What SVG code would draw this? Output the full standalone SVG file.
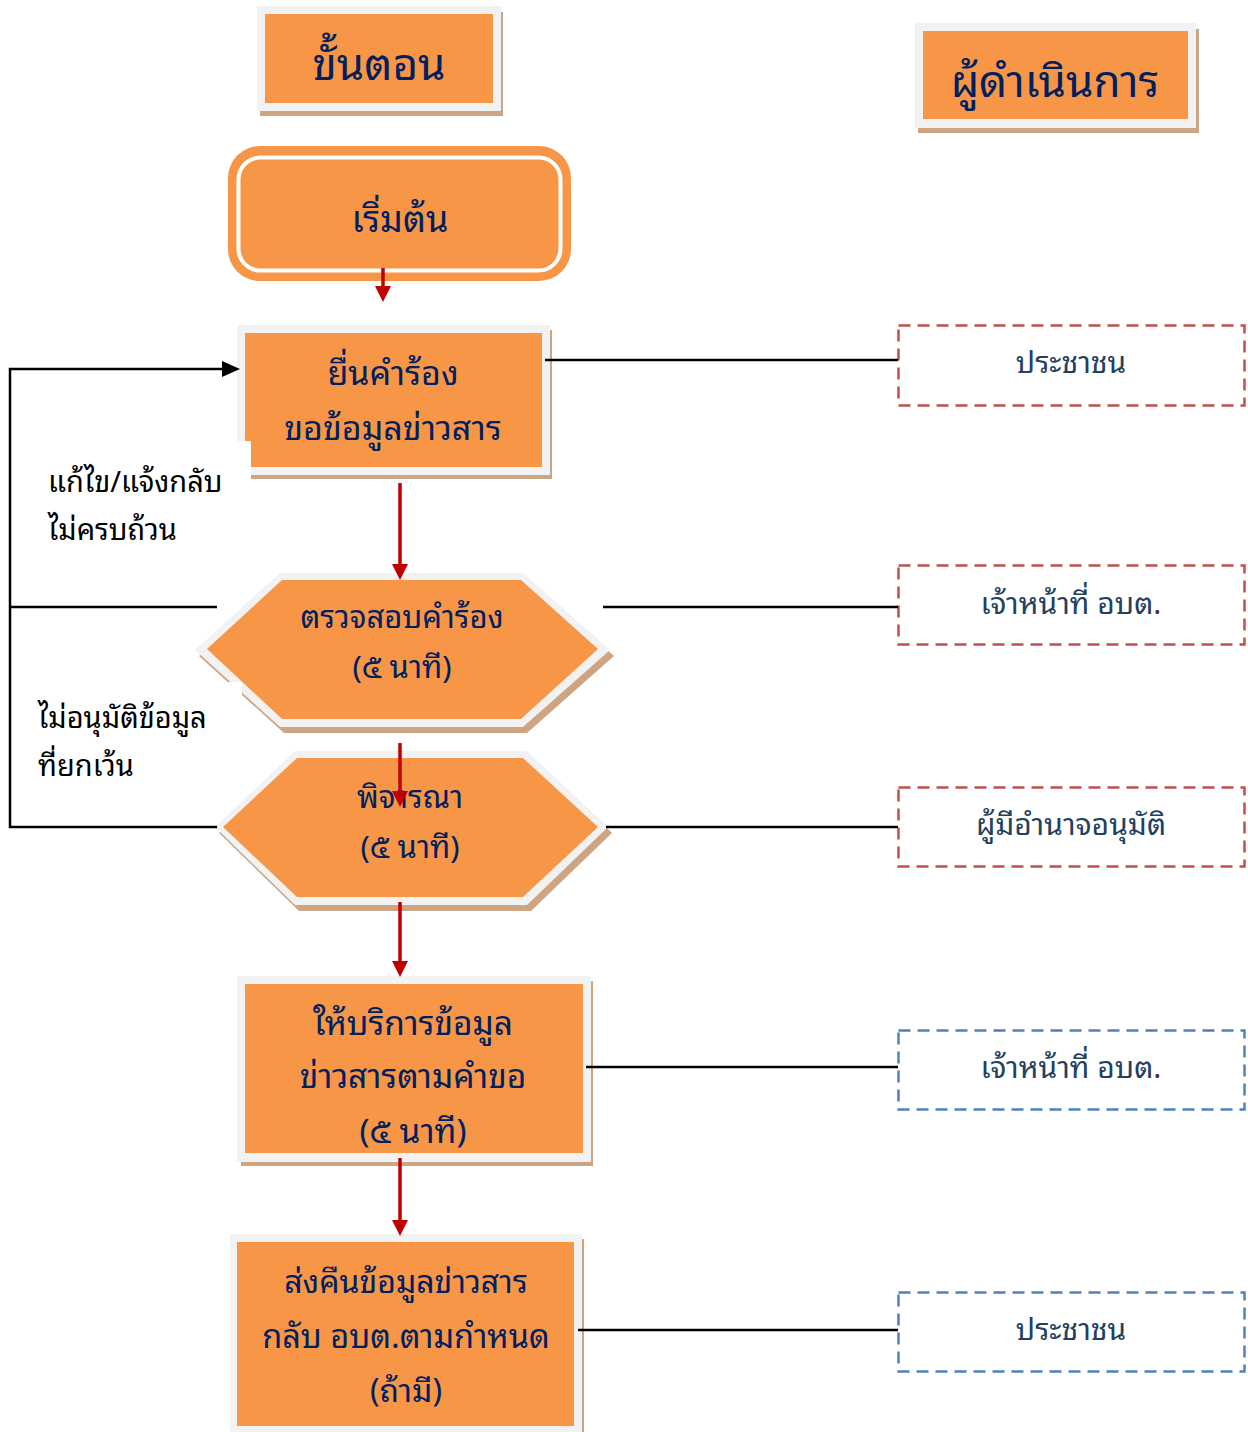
<svg xmlns="http://www.w3.org/2000/svg" width="1248" height="1432" viewBox="0 0 1248 1432">
<defs>
<style>
.sh{fill:#CDA583}
.fr{fill:#F2F2F2}
.or{fill:#F79646}
.t{font-family:"Leelawadee UI","Leelawadee",Tahoma,"Noto Sans Thai Looped","Waree","Garuda","Loma","Noto Sans Thai","Noto Sans",sans-serif;fill:#002060;text-anchor:middle}
.h{font-size:44px}
.n{font-size:32px}
.a{font-family:"Leelawadee UI","Leelawadee",Tahoma,"Noto Sans Thai Looped","Waree","Garuda","Loma","Noto Sans Thai","Noto Sans",sans-serif;fill:#243F60;font-size:30px;text-anchor:middle}
.l{font-family:"Leelawadee UI","Leelawadee",Tahoma,"Noto Sans Thai Looped","Waree","Garuda","Loma","Noto Sans Thai","Noto Sans",sans-serif;fill:#000;font-size:29px}
.dr{fill:#fff;stroke:#C0504D;stroke-width:2.5;stroke-dasharray:12 7}
.db{fill:#fff;stroke:#4F81BD;stroke-width:2.5;stroke-dasharray:12 7}
.k{stroke:#000;stroke-width:2.5;fill:none}
.r{stroke:#C00000;stroke-width:3.5;fill:none;marker-end:url(#ra)}
</style>
<marker id="ra" markerWidth="16" markerHeight="16" refX="2" refY="8" orient="auto" markerUnits="userSpaceOnUse"><path d="M0,0 L16,8 L0,16 z" fill="#C00000"/></marker>
<marker id="ka" markerWidth="18" markerHeight="16" refX="2" refY="8" orient="auto" markerUnits="userSpaceOnUse"><path d="M0,0 L18,8 L0,16 z" fill="#000"/></marker>
</defs>
<rect width="1248" height="1432" fill="#fff"/>

<g id="hdr-steps">
<rect class="sh" x="260" y="12" width="243" height="104"/>
<rect class="fr" x="257" y="6" width="244" height="105"/>
<rect class="or" x="265" y="14" width="228" height="89"/>
<text class="t h" x="379" y="80">ขั้นตอน</text>
</g>

<g id="hdr-actor">
<rect class="sh" x="918" y="29" width="281" height="104"/>
<rect class="fr" x="915" y="23" width="281" height="105"/>
<rect class="or" x="923" y="31" width="265" height="88"/>
<text class="t h" x="1055" y="97">ผู้ดำเนินการ</text>
</g>

<g id="start">
<rect x="228" y="146" width="343" height="135" rx="32" class="or"/>
<rect x="238.5" y="157.5" width="322" height="113" rx="22" fill="#F79646" stroke="#fff" stroke-width="4"/>
<text class="t" x="400" y="232" font-size="36">เริ่มต้น</text>
</g>

<g id="request">
<rect class="sh" x="251" y="330" width="301" height="149"/>
<rect class="fr" x="237" y="325" width="313" height="150"/>
<rect class="or" x="245" y="333" width="297" height="134"/>
<text class="t" font-size="34" x="393" y="385">ยื่นคำร้อง</text>
<text class="t" font-size="34" x="393" y="440">ขอข้อมูลข่าวสาร</text>
</g>

<g id="check">
<polygon class="sh" points="284,579 527,579 614,656 527,733 284,733 199,656"/>
<polygon class="fr" points="280,573 523,573 610,650 523,727 280,727 195,650"/>
<polygon class="or" points="282,580 521,580 598,649 521,719 282,719 207,649"/>
<text class="t" font-size="31" x="402" y="628">ตรวจสอบคำร้อง</text>
<text class="t" font-size="31" x="402" y="678">(๕ นาที)</text>
</g>

<g id="consider">
<polygon class="sh" points="299,757 531,757 612,833 531,911 299,911 219,833"/>
<polygon class="fr" points="295,751 527,751 608,827 527,905 295,905 215,827"/>
<polygon class="or" points="297,758 523,758 598,827 523,897 297,897 223,827"/>
<text class="t" font-size="31" x="410" y="808">พิจารณา</text>
<text class="t" font-size="31" x="410" y="858">(๕ นาที)</text>
</g>

<g id="serve">
<rect class="sh" x="241" y="981" width="352" height="185"/>
<rect class="fr" x="237" y="976" width="354" height="186"/>
<rect class="or" x="245" y="984" width="338" height="169"/>
<text class="t" font-size="33.5" x="413" y="1035">ให้บริการข้อมูล</text>
<text class="t" font-size="33.5" x="413" y="1088">ข่าวสารตามคำขอ</text>
<text class="t" font-size="33.5" x="413" y="1143">(๕ นาที)</text>
</g>

<g id="return">
<rect class="sh" x="234" y="1239" width="350" height="200"/>
<rect class="fr" x="230" y="1234" width="352" height="200"/>
<rect class="or" x="237" y="1242" width="337" height="184"/>
<text class="t" font-size="32" x="406" y="1293">ส่งคืนข้อมูลข่าวสาร</text>
<text class="t" font-size="32.5" x="406" y="1348">กลับ อบต.ตามกำหนด</text>
<text class="t" font-size="32" x="406" y="1402">(ถ้ามี)</text>
</g>

<g id="label-fix">
<rect x="30" y="441" width="221" height="110" fill="#fff"/>
<text class="l" x="48" y="492">แก้ไข/แจ้งกลับ</text>
<text class="l" x="48" y="540">ไม่ครบถ้วน</text>
</g>

<g id="label-deny">
<rect x="30" y="682" width="212" height="66" fill="#fff"/>
<text class="l" x="38" y="728">ไม่อนุมัติข้อมูล</text>
<text class="l" x="38" y="776">ที่ยกเว้น</text>
</g>

<g id="actor1">
<rect class="dr" x="898.5" y="325.5" width="346" height="80"/>
<text class="a" x="1071" y="373">ประชาชน</text>
</g>
<g id="actor2">
<rect class="dr" x="898.5" y="565.5" width="346" height="79"/>
<text class="a" x="1071" y="614">เจ้าหน้าที่ อบต.</text>
</g>
<g id="actor3">
<rect class="dr" x="898.5" y="787.5" width="346" height="79"/>
<text class="a" x="1071" y="835">ผู้มีอำนาจอนุมัติ</text>
</g>
<g id="actor4">
<rect class="db" x="898.5" y="1030.5" width="346" height="79"/>
<text class="a" x="1071" y="1078">เจ้าหน้าที่ อบต.</text>
</g>
<g id="actor5">
<rect class="db" x="898.5" y="1292.5" width="346" height="79"/>
<text class="a" x="1071" y="1340">ประชาชน</text>
</g>

<g id="connectors">
<line class="k" x1="545" y1="360" x2="898" y2="360" stroke-width="2"/>
<line class="k" x1="603" y1="607" x2="898" y2="607" stroke-width="2"/>
<line class="k" x1="606" y1="827" x2="898" y2="827" stroke-width="2"/>
<line class="k" x1="586" y1="1067" x2="898" y2="1067" stroke-width="2"/>
<line class="k" x1="578" y1="1330" x2="898" y2="1330" stroke-width="2"/>
<path class="k" d="M217,827 H10 V369 H224" marker-end="url(#ka)"/>
<line class="k" x1="10" y1="607" x2="217" y2="607"/>
<line class="r" x1="383" y1="268" x2="383" y2="288"/>
<line class="r" x1="400" y1="483" x2="400" y2="566"/>
<line class="r" x1="400" y1="743" x2="400" y2="793"/>
<line class="r" x1="400" y1="902" x2="400" y2="963"/>
<line class="r" x1="400" y1="1158" x2="400" y2="1222"/>
</g>
</svg>
